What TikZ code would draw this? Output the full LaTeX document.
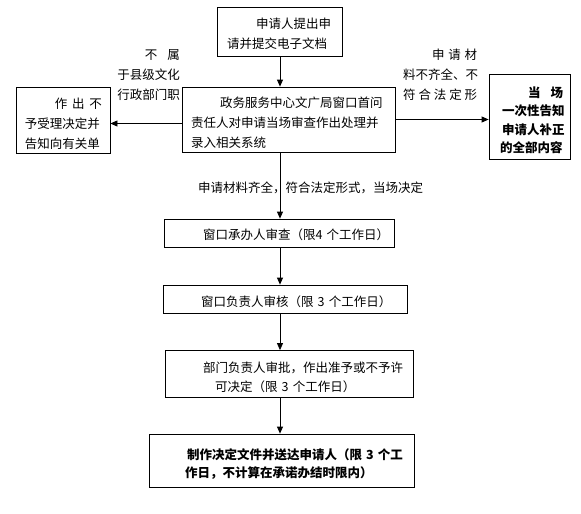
\documentclass[tikz,border=0pt]{standalone}
\usepackage{fontspec}
\newfontfamily\cjk{Noto Sans CJK SC}
\usetikzlibrary{arrows.meta}
\newcommand\topfill[1]{\rule{0pt}{#1pt}}
\begin{document}
\begin{tikzpicture}[x=1pt,y=-1pt,
  every node/.style={font=\cjk\fontsize{12.5}{20}\selectfont},
  box/.style={draw, line width=0.8pt, inner sep=0pt, align=left},
  lbl/.style={inner sep=0pt},
  arr/.style={line width=0.8pt, -{Triangle[length=7pt,width=6pt]}}]
\useasboundingbox (0,0) rectangle (581,514);
\coordinate (axis) at (280,0);
\node[box, text width=125pt, minimum height=49pt] (b1) at (279.5,31.5)
  {\topfill{15}\hspace*{39pt}申请人提出申\\\hspace*{10pt}请并提交电子文档};
\node[box, text width=213pt, minimum height=65pt] (b2) at (288.5,119.5)
  {\topfill{18}\hspace*{38pt}政务服务中心文广局窗口首问\\\hspace*{9pt}责任人对申请当场审查作出处理并\\\hspace*{9pt}录入相关系统};
\node[box, text width=94pt, minimum height=66pt] (lb) at (63,120)
  {\topfill{18}\hspace*{39pt}\makebox[47pt][s]{作\hfill 出\hfill 不}\\\hspace*{9pt}予受理决定并\\\hspace*{9pt}告知向有关单};
\node[box, text width=81pt, minimum height=85pt, font=\cjk\bfseries\fontsize{12.5}{18.3}\selectfont] (rb) at (529.5,116.5)
  {\topfill{18}\hspace*{39pt}\makebox[35pt][s]{当\hfill 场}\\\hspace*{13pt}一次性告知\\\hspace*{13pt}申请人补正\\\hspace*{11pt}的全部内容};
\node[box, text width=230pt, minimum height=28pt] (b3) at (279,233)
  {\topfill{15}\hspace*{39pt}窗口承办人审查（限4 个工作日）};
\node[box, text width=244pt, minimum height=28pt] (b4) at (285,299)
  {\topfill{17}\hspace*{38pt}窗口负责人审核（限 3 个工作日）};
\node[box, text width=248pt, minimum height=47pt, font=\cjk\fontsize{12.5}{19}\selectfont] (b5) at (289,374)
  {\topfill{17}\hspace*{38pt}部门负责人审批，作出准予或不予许\\\hspace*{50pt}可决定（限 3 个工作日）};
\node[box, text width=265pt, minimum height=53pt, font=\cjk\bfseries\fontsize{12.5}{18}\selectfont] (b6) at (281.5,460.5)
  {\topfill{17}\hspace*{38pt}制作决定文件并送达申请人（限 3 个工\\\hspace*{36pt}作日，不计算在承诺办结时限内）};
\node[lbl, anchor=east, align=right] (ll) at (180,75)
  {\makebox[35pt][s]{不\hfill 属}\\于县级文化\\行政部门职};
\node[lbl, anchor=west, align=left] (rl) at (403,75)
  {\hspace*{29pt}\makebox[45pt][s]{申\hfill 请\hfill 材}\\料不齐全、不\\\makebox[74pt][s]{符\hfill 合\hfill 法\hfill 定\hfill 形}};
\node[lbl, anchor=west] (ml) at (198,188) {申请材料齐全，符合法定形式，当场决定};
\draw[arr] (b1.south -| axis) -- (b2.north -| axis);
\draw[arr] ([yshift=-4pt]b2.west) -- ([yshift=-4pt]b2.west -| lb.east);
\draw[arr] (b2.east) -- (b2.east -| rb.west);
\draw[arr] (b2.south -| axis) -- (b3.north -| axis);
\draw[arr] (b3.south -| axis) -- (b4.north -| axis);
\draw[arr] (b4.south -| axis) -- (b5.north -| axis);
\draw[arr] (b5.south -| axis) -- (b6.north -| axis);
\end{tikzpicture}
\end{document}
